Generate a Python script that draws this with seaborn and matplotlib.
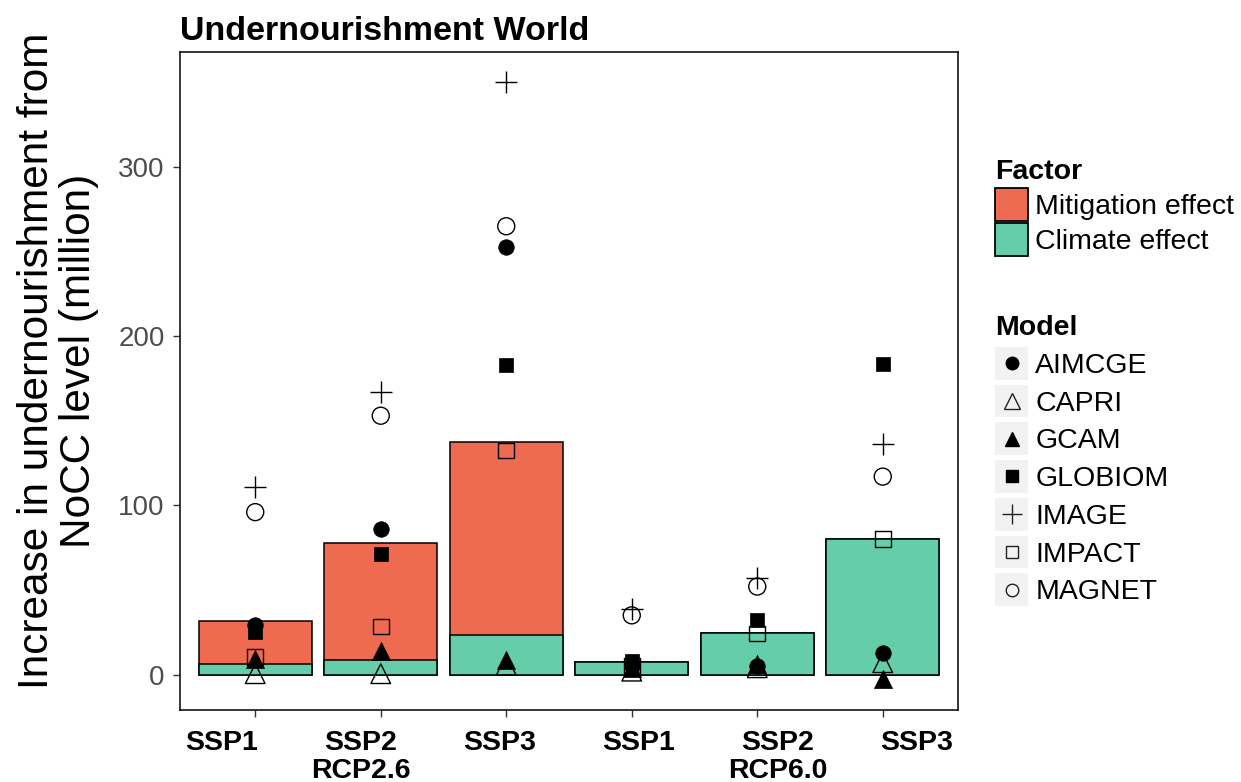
import numpy as np
import pandas as pd
import matplotlib
matplotlib.use("Agg")
import matplotlib.pyplot as plt
import matplotlib.transforms as mtransforms
from matplotlib.patches import Patch, Rectangle
from matplotlib.lines import Line2D
from matplotlib.legend_handler import HandlerBase
import seaborn as sns

# ---------------- data ----------------
scenarios = ["SSP1 RCP2.6", "SSP2 RCP2.6", "SSP3 RCP2.6",
             "SSP1 RCP6.0", "SSP2 RCP6.0", "SSP3 RCP6.0"]
tick_labels = ["SSP1", "SSP2\nRCP2.6", "SSP3", "SSP1", "SSP2\nRCP6.0", "SSP3"]

climate_effect = [6.0, 8.5, 23.5, 7.7, 24.3, 80.0]
mitigation_effect = [25.5, 69.0, 114.0, 0.0, 0.0, 0.0]

models = ["AIMCGE", "CAPRI", "GCAM", "GLOBIOM", "IMAGE", "IMPACT", "MAGNET"]
AIMCGE = [29.5, 86.0, 253.0, 5.0, 5.0, 12.5]
CAPRI = [0.5, 0.5, 5.5, 2.0, 4.0, 7.0]
GCAM = [9.0, 14.0, 8.5, 4.0, 6.0, -2.5]
GLOBIOM = [25.0, 71.0, 183.0, 8.0, 32.5, 183.5]
IMAGE = [111.0, 167.0, 350.0, 39.0, 57.0, 136.0]
IMPACT = [10.5, 28.5, 132.5, 5.0, 24.3, 80.0]
MAGNET = [96.0, 153.0, 265.0, 35.0, 52.0, 117.0]
model_values = {"AIMCGE": AIMCGE, "CAPRI": CAPRI, "GCAM": GCAM, "GLOBIOM": GLOBIOM,
                "IMAGE": IMAGE, "IMPACT": IMPACT, "MAGNET": MAGNET}

# ---------------- style ----------------
RED = "#EE6A50"
GREEN = "#66CDAA"
FONT = ["Liberation Sans", "DejaVu Sans"]

sns.set_style("white")
plt.rcParams["font.family"] = FONT
plt.rcParams["text.color"] = "black"
plt.rcParams["axes.labelcolor"] = "black"
plt.rcParams["xtick.color"] = "black"

# marker style: (marker, size for scatter (pt^2), filled, legend markersize)
mstyle = {
    "AIMCGE": ("o", 125, True, 9),
    "CAPRI": ("^", 200, False, 12),
    "GCAM": ("^", 170, True, 10),
    "GLOBIOM": ("s", 110, True, 8),
    "IMAGE": ("+", 230, False, 15),
    "IMPACT": ("s", 125, False, 9),
    "MAGNET": ("o", 150, False, 9),
}

df_bars = pd.DataFrame({
    "scenario": scenarios,
    "total": np.array(climate_effect) + np.array(mitigation_effect),
    "climate": climate_effect,
})

fig = plt.figure(figsize=(12.41, 7.82), dpi=100)
ax = fig.add_axes([0.145, 0.092, 0.627, 0.8415])

sns.barplot(data=df_bars, x="scenario", y="total", order=scenarios, color=RED,
            saturation=1, width=0.9, edgecolor="black", linewidth=1.1, ax=ax, zorder=2)
sns.barplot(data=df_bars, x="scenario", y="climate", order=scenarios, color=GREEN,
            saturation=1, width=0.9, edgecolor="black", linewidth=1.1, ax=ax, zorder=2)

xpos = np.arange(len(scenarios))
for m in models:
    mk, s, filled, _ = mstyle[m]
    sns.scatterplot(x=xpos, y=model_values[m], marker=mk, s=s, color="black",
                    linewidth=1.0 if not filled else 0.5, legend=False, ax=ax, zorder=4)
    coll = ax.collections[-1]
    if mk == "+":
        coll.set_edgecolor("black")
        coll.set_linewidth(1.0)
    elif not filled:
        coll.set_facecolor("none")
        coll.set_edgecolor("black")
        coll.set_linewidth(1.0)
    else:
        coll.set_facecolor("black")
        coll.set_edgecolor("black")

ax.set_xlim(-0.6, len(scenarios) - 0.4)
ax.set_ylim(-21, 368)
ax.set_yticks([0, 100, 200, 300])
ax.set_xticks(xpos)
ax.set_xticklabels(tick_labels, fontsize=20.5, fontweight="bold", linespacing=1.12,
                   color="black")
ax.tick_params(axis="y", labelsize=20, labelcolor="#4D4D4D", length=5, width=1,
               color="#333333", pad=6, left=True)
ax.tick_params(axis="x", length=5, width=1, color="#333333", labelcolor="black",
               pad=9, bottom=True)
ax.set_xlabel("")

# spread x tick labels slightly as in the reference
n = len(scenarios)
for i, lab in enumerate(ax.get_xticklabels()):
    dx = (i - (n - 1) / 2) * 13.4 / 100.0
    lab.set_transform(lab.get_transform() + mtransforms.ScaledTranslation(dx, 0, fig.dpi_scale_trans))

for sp in ax.spines.values():
    sp.set_visible(True)
    sp.set_color("black")
    sp.set_linewidth(1.1)
ax.grid(False)

ax.set_ylabel("Increase in undernourishment from\nNoCC level (million)",
              fontsize=30.5, linespacing=1.05, color="black")
ax.yaxis.label.set_va("center")
ax.yaxis.set_label_coords(-0.157, 0.53)

ax.set_title("Undernourishment World", loc="left", fontsize=24.5, fontweight="bold",
             pad=9, color="black")


# ---------------- legends ----------------
class KeyHandler(HandlerBase):
    """Square key of fixed size with optional marker on top."""
    def __init__(self, side, face, edge, lw, marker=None):
        super().__init__()
        self.side, self.face, self.edge, self.lw, self.marker = side, face, edge, lw, marker

    def create_artists(self, legend, orig_handle, xdescent, ydescent, width, height,
                       fontsize, trans):
        cx = -xdescent + width / 2.0
        cy = -ydescent + height / 2.0
        S = self.side
        rect = Rectangle((cx - S / 2.0, cy - S / 2.0), S, S, facecolor=self.face,
                         edgecolor=self.edge, linewidth=self.lw, transform=trans)
        arts = [rect]
        if self.marker is not None:
            mk, ms, filled = self.marker
            ln = Line2D([cx], [cy], linestyle="none", marker=mk, markersize=ms,
                        markerfacecolor="black" if filled else "none",
                        markeredgecolor="black" if filled else "#222222",
                        markeredgewidth=1.0, transform=trans)
            arts.append(ln)
        return arts


LFS = 20.5
KEY = 23.5  # points
fac_handles = [Patch(facecolor=RED), Patch(facecolor=GREEN)]
leg1 = fig.legend(fac_handles, ["Mitigation effect", "Climate effect"], title="Factor",
                  handler_map={fac_handles[0]: KeyHandler(KEY, RED, "black", 1.3),
                               fac_handles[1]: KeyHandler(KEY, GREEN, "black", 1.3)},
                  loc="upper left", bbox_to_anchor=(0.802, 0.797), frameon=False,
                  fontsize=LFS, title_fontproperties={"weight": "bold", "size": LFS},
                  handlelength=1.15, handleheight=1.15, handletextpad=0.25,
                  labelspacing=0.19, borderpad=0, borderaxespad=0, alignment="left",
                  labelcolor="black")

mod_handles = []
mod_map = {}
for m in models:
    mk, s, filled, ms = mstyle[m]
    h = Patch(facecolor="#F2F2F2", label=m)
    mod_handles.append(h)
    mod_map[h] = KeyHandler(KEY, "#F2F2F2", "none", 0, marker=(mk, ms, filled))
leg2 = fig.legend(mod_handles, models, title="Model", handler_map=mod_map,
                  loc="upper left", bbox_to_anchor=(0.802, 0.597), frameon=False,
                  fontsize=LFS, title_fontproperties={"weight": "bold", "size": LFS},
                  handlelength=1.15, handleheight=1.15, handletextpad=0.25,
                  labelspacing=0.28, borderpad=0, borderaxespad=0, alignment="left",
                  labelcolor="black")
for lg in (leg1, leg2):
    lg.get_title().set_color("black")

fig.savefig("out.png", dpi=100)
